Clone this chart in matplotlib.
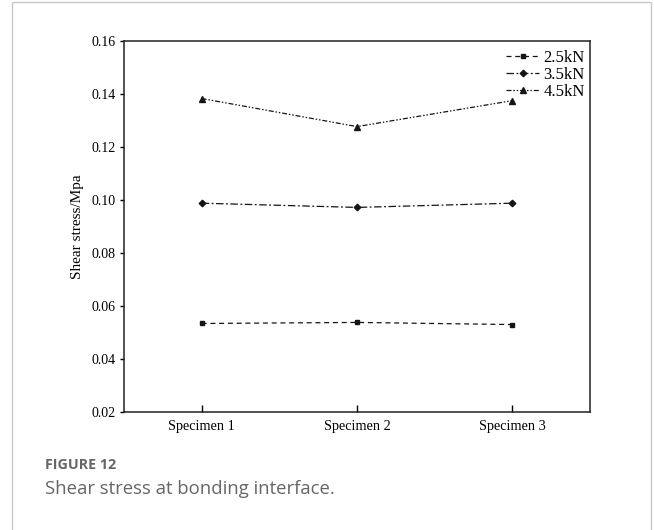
import matplotlib
matplotlib.use('Agg')
from matplotlib import pyplot as plt
from matplotlib import patches as ptc

specimens = ['Specimen 1', 'Specimen 2', 'Specimen 3']
load_labels = ['2.5kN', '3.5kN', '4.5kN']
stress_25 = [0.0534, 0.0538, 0.0530]
stress_35 = [0.0988, 0.0972, 0.0988]
stress_45 = [0.1383, 0.1277, 0.1375]
yticks = [0.02, 0.04, 0.06, 0.08, 0.10, 0.12, 0.14, 0.16]

serif = ['Liberation Serif', 'DejaVu Serif']

fig = plt.figure(figsize=(6.54, 5.3), dpi=100)
W, H = 654, 530

# card border
fig.patches.append(ptc.Rectangle((12 / W, -0.1), (651 - 12) / W, (528 + 53) / H,
                                 transform=fig.transFigure, fill=False,
                                 edgecolor='#c8c8c8', linewidth=1.0))

ax = fig.add_axes([124 / W, 1 - 412 / H, (590 - 124) / W, (412 - 41) / H])

x = [1, 2, 3]
ax.plot(x, stress_25, color='#151515', linestyle=(0, (4, 3)), linewidth=0.9,
        marker='s', markersize=3.3, label=load_labels[0])
ax.plot(x, stress_35, color='#151515', linestyle=(0, (6, 2, 1.5, 2)), linewidth=0.9,
        marker='D', markersize=3.3, label=load_labels[1])
ax.plot(x, stress_45, color='#151515', linestyle=(0, (4, 1.5, 1.2, 1.5, 1.2, 1.5)),
        linewidth=0.9, marker='^', markersize=4, label=load_labels[2])

ax.set_xlim(0.5, 3.5)
ax.set_ylim(0.02, 0.16)
ax.set_xticks(x)
ax.set_xticklabels(specimens, fontfamily=serif, fontsize=10.3)
ax.set_yticks(yticks)
ax.set_yticklabels(['%.2f' % v for v in yticks], fontfamily=serif, fontsize=10)
ax.tick_params(axis='x', direction='in', length=5, width=1, top=False, pad=6)
ax.tick_params(axis='y', direction='out', length=3, width=1, right=False, pad=3)
for s in ax.spines.values():
    s.set_linewidth(1.1)
    s.set_color('#222222')
ax.set_ylabel('Shear stress/Mpa', fontfamily=serif, fontsize=11, labelpad=5)

leg = ax.legend(loc='upper right', bbox_to_anchor=(1.0, 1 - 4 / 371), frameon=False,
                prop={'family': serif, 'size': 12},
                handlelength=2.0, handletextpad=0.25, labelspacing=0.05,
                borderpad=0.2, borderaxespad=0.1)

fig.text(45 / W, 1 - 465 / H, 'FIGURE 12', fontfamily='Open Sans', fontweight='bold',
         fontsize=10.3, color='#666666', va='center')
fig.text(45 / W, 1 - 489 / H, 'Shear stress at bonding interface.', fontfamily='Open Sans',
         fontsize=13.3, color='#666666', va='center')

fig.savefig('out.png', dpi=100)
